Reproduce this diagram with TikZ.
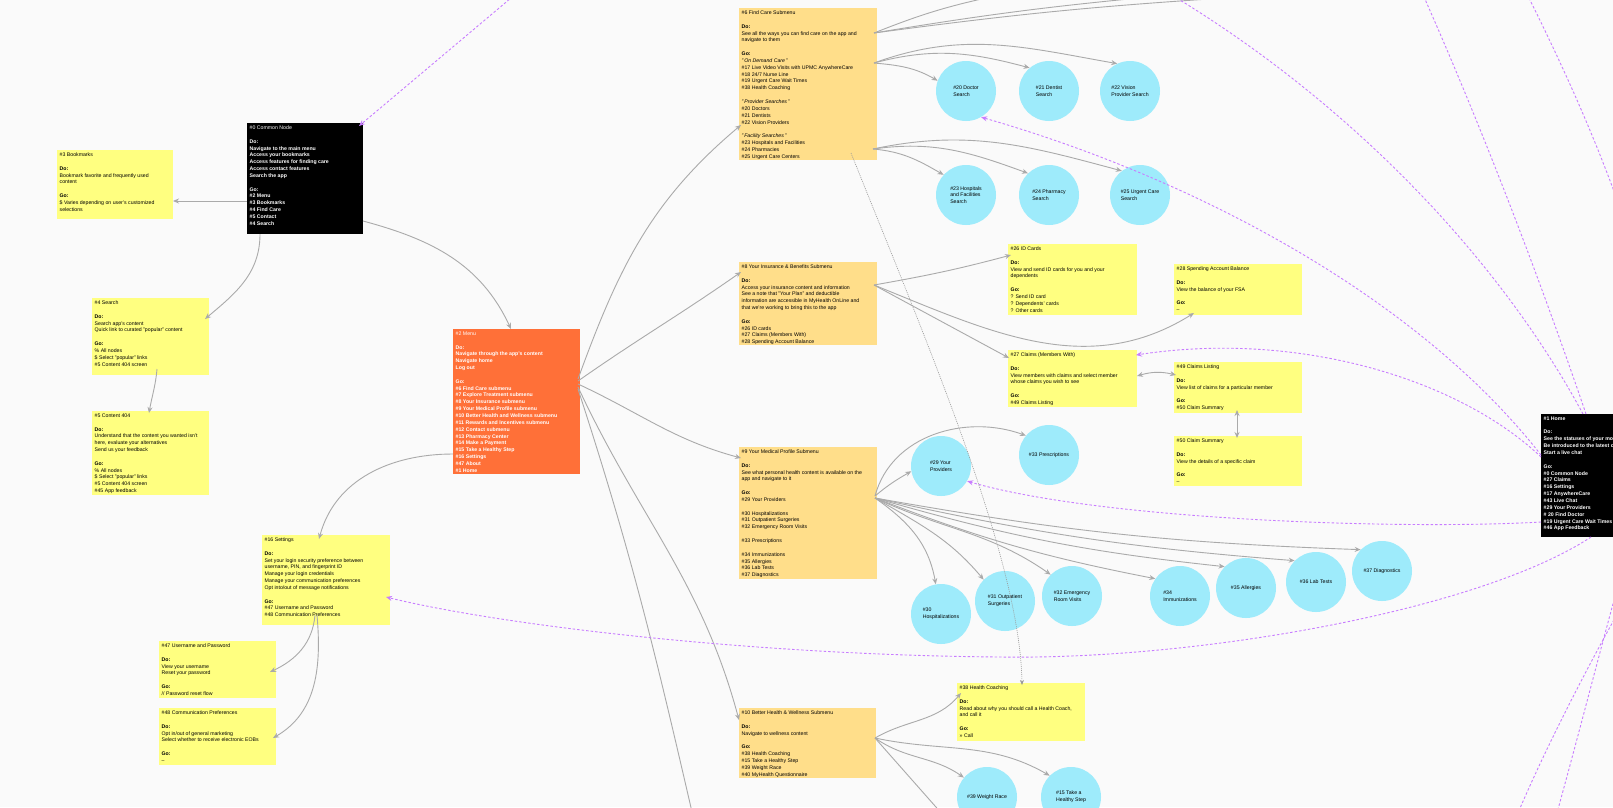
\documentclass[tikz,border=0pt]{standalone}
\usepackage{fontspec}
\setmainfont{Liberation Sans}
\usetikzlibrary{arrows.meta}
\definecolor{bg}{RGB}{250,250,250}
\definecolor{stick}{RGB}{255,255,128}
\definecolor{sub}{RGB}{255,222,138}
\definecolor{menu}{RGB}{255,112,56}
\definecolor{bub}{RGB}{158,235,251}
\definecolor{gl}{RGB}{170,170,170}
\definecolor{pl}{RGB}{200,125,255}
\tikzset{
 x=1pt,y=1pt,
 box/.style={draw=none,fill=#1,rectangle,inner sep=0pt,anchor=north west},
 txt/.style={anchor=north west,inner sep=2.5pt,align=left,font=\fontsize{5.2}{6.85}\selectfont},
 wtxt/.style={txt,text=white},
 bubble/.style={circle,fill=bub,minimum size=60pt,inner sep=0pt,align=left,font=\fontsize{5.2}{6.85}\selectfont},
 gline/.style={draw=gl,line width=0.9pt,-{Stealth[length=6pt,width=5pt]}},
 gplain/.style={draw=gl,line width=0.9pt},
 dline/.style={draw=gl!90!black,line width=0.6pt,dash pattern=on 1pt off 1pt,-{Stealth[length=5pt,width=4pt]}},
 pline/.style={draw=pl,line width=0.9pt,dash pattern=on 2.5pt off 2pt,-{Stealth[length=6pt,width=5pt]}},
 pplain/.style={draw=pl,line width=0.9pt,dash pattern=on 2.5pt off 2pt},
}
\newcommand{\B}{\\[6.85pt]}
\begin{document}
\begin{tikzpicture}
\useasboundingbox (0,0) rectangle (1613,-807);
\fill[bg] (0,0) rectangle (1613,-807);

% boxes
\node[box=black,minimum width=116,minimum height=111] (n0) at (247,-123) {};
\node[box=stick,minimum width=116,minimum height=69] (n3) at (57,-150) {};
\node[box=stick,minimum width=117,minimum height=77] (n4) at (92,-298) {};
\node[box=stick,minimum width=117,minimum height=84] (n5) at (92,-411) {};
\node[box=menu,minimum width=127,minimum height=145] (n2) at (453,-329) {};
\node[box=stick,minimum width=128,minimum height=90] (n16) at (262,-535) {};
\node[box=stick,minimum width=117,minimum height=57] (n47) at (159,-641) {};
\node[box=stick,minimum width=117,minimum height=57] (n48) at (159,-708) {};
\node[box=sub,minimum width=138,minimum height=152] (n6) at (739,-8) {};
\node[box=sub,minimum width=138,minimum height=83] (n8) at (739,-262) {};
\node[box=stick,minimum width=129,minimum height=71] (n26) at (1008,-244) {};
\node[box=stick,minimum width=128,minimum height=51] (n28) at (1174,-264) {};
\node[box=stick,minimum width=129,minimum height=57] (n27) at (1008,-350) {};
\node[box=stick,minimum width=128,minimum height=51] (n49) at (1174,-362) {};
\node[box=stick,minimum width=128,minimum height=50] (n50) at (1174,-436) {};
\node[box=sub,minimum width=138,minimum height=132] (n9) at (739,-447) {};
\node[box=sub,minimum width=137,minimum height=70] (n10) at (739,-708) {};
\node[box=stick,minimum width=128,minimum height=58] (n38) at (957,-683) {};
\node[box=black,minimum width=130,minimum height=123] (n1) at (1541,-414) {};

% texts
\node[wtxt] at (n0.north west) {\#0 Common Node\B\textbf{Do:}\\\textbf{Navigate to the main menu}\\\textbf{Access your bookmarks}\\\textbf{Access features for finding care}\\\textbf{Access contact features}\\\textbf{Search the app}\B\textbf{Go:}\\\textbf{\#2 Menu}\\\textbf{\#3 Bookmarks}\\\textbf{\#4 Find Care}\\\textbf{\#5 Contact}\\\textbf{\#4 Search}};
\node[txt] at (n3.north west) {\#3 Bookmarks\B\textbf{Do:}\\Bookmark favorite and frequently used\\content\B\textbf{Go:}\\\$ Varies depending on user's customized\\selections};
\node[txt] at (n4.north west) {\#4 Search\B\textbf{Do:}\\Search app's content\\Quick link to curated "popular" content\B\textbf{Go:}\\\% All nodes\\\$ Select "popular" links\\\#5 Content 404 screen};
\node[txt] at (n5.north west) {\#5 Content 404\B\textbf{Do:}\\Understand that the content you wanted isn't\\here, evaluate your alternatives\\Send us your feedback\B\textbf{Go:}\\\% All nodes\\\$ Select "popular" links\\\#5 Content 404 screen\\\#45 App feedback};
\node[wtxt] at (n2.north west) {\#2 Menu\B\textbf{Do:}\\\textbf{Navigate through the app's content}\\\textbf{Navigate home}\\\textbf{Log out}\B\textbf{Go:}\\\textbf{\#6 Find Care submenu}\\\textbf{\#7 Explore Treatment submenu}\\\textbf{\#8 Your Insurance submenu}\\\textbf{\#9 Your Medical Profile submenu}\\\textbf{\#10 Better Health and Wellness submenu}\\\textbf{\#11 Rewards and Incentives submenu}\\\textbf{\#12 Contact submenu}\\\textbf{\#13 Pharmacy Center}\\\textbf{\#14 Make a Payment}\\\textbf{\#15 Take a Healthy Step}\\\textbf{\#16 Settings}\\\textbf{\#47 About}\\\textbf{\#1 Home}};
\node[txt] at (n16.north west) {\#16 Settings\B\textbf{Do:}\\Set your login security preference between\\username, PIN, and fingerprint ID\\Manage your login credentials\\Manage your communication preferences\\Opt into/out of message notifications\B\textbf{Go:}\\\#47 Username and Password\\\#48 Communication Preferences};
\node[txt] at (n47.north west) {\#47 Username and Password\B\textbf{Do:}\\View your username\\Reset your password\B\textbf{Go:}\\// Password reset flow};
\node[txt] at (n48.north west) {\#48 Communication Preferences\B\textbf{Do:}\\Opt in/out of general marketing\\Select whether to receive electronic EOBs\B\textbf{Go:}\\--};
\node[txt] at (n6.north west) {\#6 Find Care Submenu\B\textbf{Do:}\\See all the ways you can find care on the app and\\navigate to them\B\textbf{Go:}\\\textit{"\,On Demand Care\,"}\\\#17 Live Video Visits with UPMC AnywhereCare\\\#18 24/7 Nurse Line\\\#19 Urgent Care Wait Times\\\#38 Health Coaching\B\textit{"\,Provider Searches\,"}\\\#20 Doctors\\\#21 Dentists\\\#22 Vision Providers\B\textit{"\,Facility Searches\,"}\\\#23 Hospitals and Facilities\\\#24 Pharmacies\\\#25 Urgent Care Centers};
\node[txt] at (n8.north west) {\#8 Your Insurance \& Benefits Submenu\B\textbf{Do:}\\Access your insurance content and information\\See a note that "Your Plan" and deductible\\information are accessible in MyHealth OnLine and\\that we're working to bring this to the app\B\textbf{Go:}\\\#26 ID cards\\\#27 Claims (Members With)\\\#28 Spending Account Balance};
\node[txt] at (n26.north west) {\#26 ID Cards\B\textbf{Do:}\\View and send ID cards for you and your\\dependents\B\textbf{Go:}\\? Send ID card\\? Dependents' cards\\? Other cards};
\node[txt] at (n28.north west) {\#28 Spending Account Balance\B\textbf{Do:}\\View the balance of your FSA\B\textbf{Go:}\\--};
\node[txt] at (n27.north west) {\#27 Claims (Members With)\B\textbf{Do:}\\View members with claims and select member\\whose claims you wish to see\B\textbf{Go:}\\\#49 Claims Listing};
\node[txt] at (n49.north west) {\#49 Claims Listing\B\textbf{Do:}\\View list of claims for a particular member\B\textbf{Go:}\\\#50 Claim Summary};
\node[txt] at (n50.north west) {\#50 Claim Summary\B\textbf{Do:}\\View the details of a specific claim\B\textbf{Go:}\\--};
\node[txt] at (n9.north west) {\#9 Your Medical Profile Submenu\B\textbf{Do:}\\See what personal health content is available on the\\app and navigate to it\B\textbf{Go:}\\\#29 Your Providers\B\#30 Hospitalizations\\\#31 Outpatient Surgeries\\\#32 Emergency Room Visits\B\#33 Prescriptions\B\#34 Immunizations\\\#35 Allergies\\\#36 Lab Tests\\\#37 Diagnostics};
\node[txt] at (n10.north west) {\#10 Better Health \& Wellness Submenu\B\textbf{Do:}\\Navigate to wellness content\B\textbf{Go:}\\\#38 Health Coaching\\\#15 Take a Healthy Step\\\#39 Weight Race\\\#40 MyHealth Questionnaire};
\node[txt] at (n38.north west) {\#38 Health Coaching\B\textbf{Do:}\\Read about why you should call a Health Coach,\\and call it\B\textbf{Go:}\\>> Call};
\node[wtxt] at (n1.north west) {\textbf{\#1 Home}\B\textbf{Do:}\\\textbf{See the statuses of your most recent claims}\\\textbf{Be introduced to the latest content}\\\textbf{Start a live chat}\B\textbf{Go:}\\\textbf{\#0 Common Node}\\\textbf{\#27 Claims}\\\textbf{\#16 Settings}\\\textbf{\#17 AnywhereCare}\\\textbf{\#43 Live Chat}\\\textbf{\#29 Your Providers}\\\textbf{\# 20 Find Doctor}\\\textbf{\#19 Urgent Care Wait Times}\\\textbf{\#46 App Feedback}};

% bubbles
\node[bubble] (c20) at (966,-91) {\#20 Doctor\\Search};
\node[bubble] (c21) at (1049,-91) {\#21 Dentist\\Search};
\node[bubble] (c22) at (1130,-91) {\#22 Vision\\Provider Search};
\node[bubble] (c23) at (966,-195) {\#23 Hospitals\\and Facilities\\Search};
\node[bubble] (c24) at (1049,-195) {\#24 Pharmacy\\Search};
\node[bubble] (c25) at (1140,-195) {\#25 Urgent Care\\Search};
\node[bubble] (c29) at (941,-466) {\#29 Your\\Providers};
\node[bubble] (c33) at (1049,-455) {\#33 Prescriptions};
\node[bubble] (c30) at (941,-614) {\#30\\Hospitalizations};
\node[bubble] (c31) at (1005,-601) {\#31 Outpatient\\Surgeries};
\node[bubble] (c32) at (1072,-596) {\#32 Emergency\\Room Visits};
\node[bubble] (c34) at (1180,-596) {\#34\\Immunizations};
\node[bubble] (c35) at (1246,-588) {\#35 Allergies};
\node[bubble] (c36) at (1316,-582) {\#36 Lab Tests};
\node[bubble] (c37) at (1382,-571) {\#37 Diagnostics};
\node[bubble] (c39) at (987,-797) {\#39 Weight Race};
\node[bubble] (c15) at (1071,-797) {\#15 Take a\\Healthy Step};

% free ends
\coordinate (o2) at (692,-812);
\coordinate (o10) at (943,-815);
\coordinate (t1) at (1000,5);
\coordinate (t2) at (1160,4);
\coordinate (t3) at (1240,3);
\coordinate (p0) at (530,18);
\coordinate (pa) at (1160,12);
\coordinate (pb) at (1420,12);
\coordinate (pc1) at (1525,10);
\coordinate (pc2) at (1625,-222);
\coordinate (pd1) at (1625,-560);
\coordinate (pd2) at (1555,-820);
\coordinate (pe1) at (1625,-600);
\coordinate (pe2) at (1515,-820);

% grey connectors
\draw[gline] ([shift={(0,-78)}]n0.north west) -- ([shift={(116,-51)}]n3.north west);
\draw[gline] ([shift={(13,-111)}]n0.north west) to[out=-90,in=40] ([shift={(113,-21)}]n4.north west);
\draw[gline] ([shift={(116,-98)}]n0.north west) to[out=-15,in=115] ([shift={(58,0)}]n2.north west);
\draw[gline] ([shift={(65,-71)}]n4.north west) to[out=-95,in=80] ([shift={(57,-2)}]n5.north west);
\draw[gline] ([shift={(125,-50)}]n2.north west) to[out=70,in=-140] ([shift={(2,-117)}]n6.north west);
\draw[gline] ([shift={(125,-52)}]n2.north west) to[out=35,in=-145] ([shift={(2,-10)}]n8.north west);
\draw[gline] ([shift={(125,-55)}]n2.north west) to[out=-25,in=165] ([shift={(2,-11)}]n9.north west);
\draw[gline] ([shift={(125,-58)}]n2.north west) to[out=-65,in=105] ([shift={(0,-12)}]n10.north west);
\draw[gplain] ([shift={(125,-60)}]n2.north west) to[out=-72,in=103] (o2);
\draw[gline] ([shift={(0,-125)}]n2.north west) to[out=180,in=75] ([shift={(57,-4)}]n16.north west);
\draw[gline] ([shift={(53,-80)}]n16.north west) to[out=-95,in=25] ([shift={(111,-31)}]n47.north west);
\draw[gline] ([shift={(55,-80)}]n16.north west) to[out=-85,in=30] ([shift={(114,-30)}]n48.north west);
\draw[gplain] ([shift={(135,-25)}]n6.north west) to[bend left=5] (t1);
\draw[gplain] ([shift={(135,-25)}]n6.north west) to[bend left=2] (t2);
\draw[gplain] ([shift={(135,-25)}]n6.north west) to[bend left=2] (t3);
\draw[gline] ([shift={(135,-55)}]n6.north west) to[out=-5,in=150] (c20.160);
\draw[gline] ([shift={(135,-55)}]n6.north west) to[out=15,in=165] (c21.130);
\draw[gline] ([shift={(135,-55)}]n6.north west) to[out=20,in=170] (c22.115);
\draw[gline] ([shift={(134,-141)}]n6.north west) to[out=-5,in=150] (c23.138);
\draw[gline] ([shift={(134,-141)}]n6.north west) to[out=8,in=160] (c24.134);
\draw[gline] ([shift={(134,-141)}]n6.north west) to[out=12,in=165] (c25.127);
\draw[dline] ([shift={(112,-145)}]n6.north west) .. controls (930,-350) and (1020,-560) .. ([shift={(65,-2)}]n38.north west);
\draw[gline] ([shift={(135,-23)}]n8.north west) to[out=10,in=-165] ([shift={(3,-11)}]n26.north west);
\draw[gline] ([shift={(135,-23)}]n8.north west) to[out=-22,in=-148] ([shift={(20,-49)}]n28.north west);
\draw[gline] ([shift={(135,-23)}]n8.north west) -- ([shift={(1,-8)}]n27.north west);
\draw[gline,{Stealth[length=6pt,width=5pt]}-{Stealth[length=6pt,width=5pt]}] ([shift={(129,-26)}]n27.north west) to[bend left=15] ([shift={(2,-13)}]n49.north west);
\draw[gline,{Stealth[length=6pt,width=5pt]}-{Stealth[length=6pt,width=5pt]}] ([shift={(63,-48)}]n49.north west) -- ([shift={(63,-2)}]n50.north west);
\draw[gline] ([shift={(136,-49)}]n9.north west) to[out=40,in=-150] (c29.190);
\draw[gline] ([shift={(136,-49)}]n9.north west) to[out=75,in=160] (c33.140);
\draw[gline] ([shift={(136,-51)}]n9.north west) to[out=-35,in=100] (c30.100);
\draw[gline] ([shift={(136,-51)}]n9.north west) to[out=-30,in=130] (c31.135);
\draw[gline] ([shift={(136,-51)}]n9.north west) to[out=-25,in=145] (c32.135);
\draw[gline] ([shift={(136,-51)}]n9.north west) to[bend right=5] (c34.145);
\draw[gline] ([shift={(136,-51)}]n9.north west) to[bend right=5] (c35.135);
\draw[gline] ([shift={(136,-51)}]n9.north west) to[bend right=4] (c36.135);
\draw[gline] ([shift={(136,-51)}]n9.north west) to[bend right=4] (c37.135);
\draw[gline] ([shift={(136,-30)}]n10.north west) to[out=30,in=-130] ([shift={(4,-10)}]n38.north west);
\draw[gline] ([shift={(136,-30)}]n10.north west) to[out=-35,in=145] (c39.140);
\draw[gline] ([shift={(136,-30)}]n10.north west) to[out=-12,in=150] (c15.135);
\draw[gplain] ([shift={(136,-30)}]n10.north west) -- (o10);

% purple connectors
\draw[pline] (p0) -- ([shift={(112,-3)}]n0.north west);
\draw[pline] ([shift={(0,-41)}]n1.north west) .. controls (1420,-300) and (1200,-180) .. (c20.-60);
\draw[pline] ([shift={(0,-43)}]n1.north west) .. controls (1460,-380) and (1300,-330) .. ([shift={(128,-5)}]n27.north west);
\draw[pline] ([shift={(0,-108)}]n1.north west) .. controls (1400,-530) and (1100,-520) .. (c29.-30);
\draw[pline] ([shift={(50,-123)}]n1.north west) .. controls (1480,-610) and (1200,-660) .. (1000,-657) .. controls (750,-655) and (500,-625) .. ([shift={(124,-62)}]n16.north west);
\draw[pplain] ([shift={(42,0)}]n1.north west) .. controls (1500,-260) and (1350,-100) .. (pa);
\draw[pplain] ([shift={(45,0)}]n1.north west) .. controls (1530,-250) and (1470,-100) .. (pb);
\draw[pplain] (pc1) .. controls (1570,-80) and (1600,-150) .. (pc2);
\draw[pplain] (pd1) .. controls (1600,-650) and (1580,-730) .. (pd2);
\draw[pplain] (pe1) .. controls (1580,-680) and (1540,-760) .. (pe2);
\end{tikzpicture}
\end{document}
